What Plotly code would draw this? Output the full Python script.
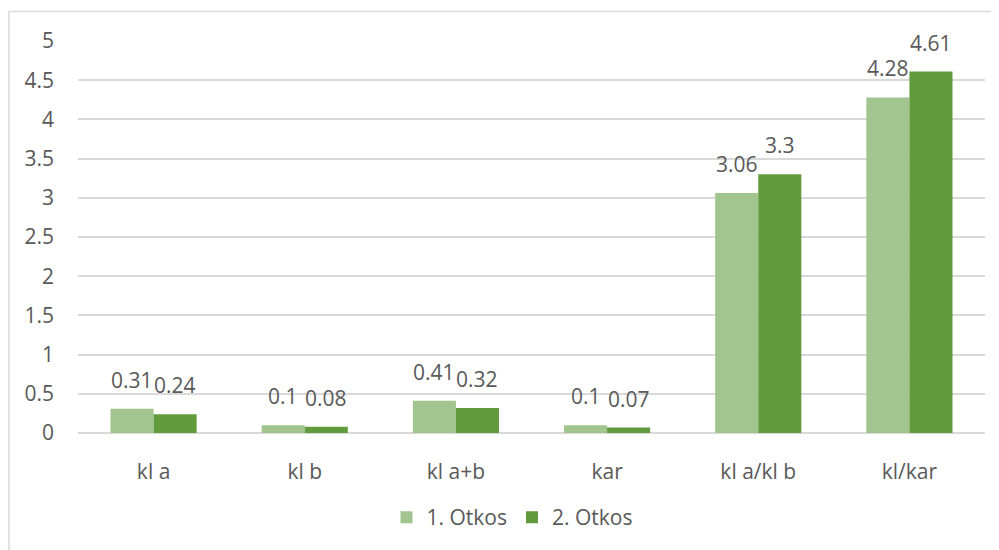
import plotly.graph_objects as go

categories = ['kl a', 'kl b', 'kl a+b', 'kar', 'kl a/kl b', 'kl/kar']
otkos1 = [0.31, 0.1, 0.41, 0.1, 3.06, 4.28]
otkos2 = [0.24, 0.08, 0.32, 0.07, 3.3, 4.61]
series_names = ['1. Otkos', '2. Otkos']
colors = ['#A2C48F', '#629B3E']

FONT = 'Open Sans, sans-serif'
TEXT = '#595959'
GRID = '#D9D9D9'
FS = 21

# plot area in page pixels: 70..977 horizontally, 33..425 vertically
pw, ph = 907, 392
bar_px = pw / len(categories) * (1 - 0.43) / 2

fig = go.Figure()
for i, (name, vals, color) in enumerate(zip(series_names, [otkos1, otkos2], colors)):
    fig.add_trace(go.Bar(
        x=categories, y=vals, name=name,
        marker=dict(color=color, line=dict(width=0)),
    ))
    # data labels sit a bit higher above the bars, Excel style
    shift = (i - 0.5) * bar_px
    for c, v in zip(categories, vals):
        fig.add_annotation(x=c, y=v, text=f'{v:g}', showarrow=False,
                           xshift=shift, yshift=13, yanchor='bottom',
                           font=dict(size=FS, color=TEXT, family=FONT))

fig.add_shape(type='rect', xref='paper', yref='paper',
              x0=(1 - 70) / pw, x1=(1030 - 70) / pw,
              y0=(425 - 580) / ph, y1=(425 - 3.5) / ph,
              line=dict(color=GRID, width=1.5), layer='below')

fig.update_layout(
    width=999, height=550,
    margin=dict(l=70, r=22, t=33, b=125, autoexpand=False),
    plot_bgcolor='white', paper_bgcolor='white',
    barmode='group', bargap=0.43, bargroupgap=0,
    font=dict(family=FONT, size=FS, color=TEXT),
    showlegend=True,
    legend=dict(orientation='h', x=(504 - 70) / pw, xanchor='center',
                y=(425 - 509.5) / ph, yanchor='middle',
                font=dict(size=FS, color=TEXT), itemwidth=30, traceorder='normal'),
)
fig.update_xaxes(showgrid=False, showline=False, ticks='', ticklabelstandoff=24,
                 tickfont=dict(size=FS, color=TEXT))
fig.update_yaxes(range=[0, 5], dtick=0.5, showgrid=True, gridcolor=GRID,
                 gridwidth=1.5, zeroline=True, zerolinecolor=GRID, zerolinewidth=1.5,
                 showline=False, ticks='', ticklabelstandoff=23,
                 tickfont=dict(size=FS, color=TEXT))

fig.write_html('out.html')
